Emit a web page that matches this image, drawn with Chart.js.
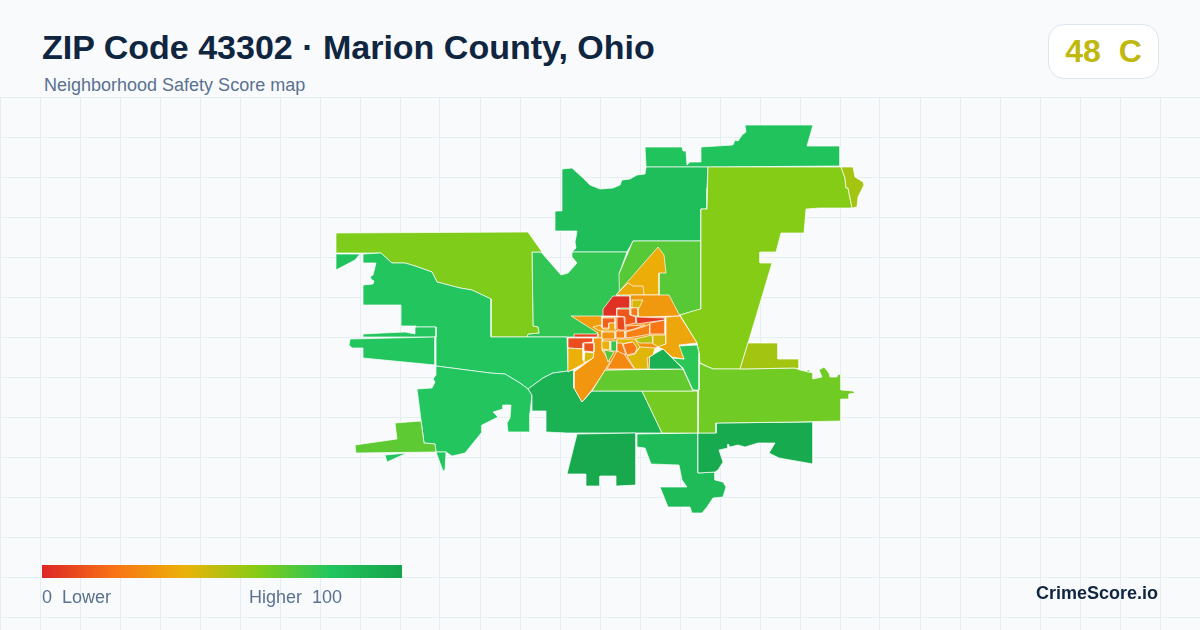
<!DOCTYPE html>
<html>
<head>
<meta charset="utf-8">
<title>ZIP Code 43302</title>
<script src="https://cdn.jsdelivr.net/npm/chart.js@4/dist/chart.umd.min.js"></script>
<style>
  html, body { margin: 0; padding: 0; }
  body { width: 1200px; height: 630px; background: #f8fafc; position: relative; overflow: hidden; font-family: "Liberation Sans", Arial, sans-serif; }
  #mapWrap { position: absolute; left: 0; top: 97px; width: 1200px; height: 533px; }
  .txt { position: absolute; white-space: pre; }
  #title { left: 42px; top: 27px; font-size: 34px; font-weight: bold; color: #0f2540; line-height: 40px; }
  #subtitle { left: 44px; top: 75px; font-size: 18px; color: #5a7190; line-height: 20px; }
  #badge { position: absolute; left: 1048px; top: 24px; width: 109px; height: 53px; background: #fff; border: 1px solid #dde5ee; border-radius: 16px; text-align: center; font-size: 32px; font-weight: bold; color: #bfb80f; line-height: 53px; white-space: pre; }
  #legendBar { position: absolute; left: 42px; top: 565px; width: 360px; height: 13px; }
  #lower { left: 42px; top: 587px; font-size: 18px; color: #5a7190; line-height: 20px; }
  #higher { left: 249px; top: 587px; font-size: 18px; color: #5a7190; line-height: 20px; }
  #brand { right: 42px; top: 583px; font-size: 18px; font-weight: bold; color: #0f2540; line-height: 20px; }
</style>
</head>
<body>
<div class="txt" id="title">ZIP Code 43302 · Marion County, Ohio</div>
<div class="txt" id="subtitle">Neighborhood Safety Score map</div>
<div id="badge">48  C</div>
<div id="mapWrap"><canvas id="map" width="1200" height="533"></canvas></div>
<div id="legendBar"></div>
<div class="txt" id="lower">0  Lower</div>
<div class="txt" id="higher">Higher  100</div>
<div class="txt" id="brand">CrimeScore.io</div>

<script>
// Colour ramp for the score, same one as the legend bar
const scoreStops = [0, 20, 40, 60, 80, 100];
const scoreColors = ["#dc2626", "#f97316", "#eab308", "#84cc16", "#22c55e", "#16a34a"];

// Tract outlines in map units
const northBand = [[745,125],[813,125],[807,146],[840,146],[840,166],[708,167],[646,167],[645,147],[682,147],[683,151],[686,151],[687,165],[690,162],[700,162],[701,147],[733,145],[735,140],[738,141],[742,135],[746,132]];
const northWest = [[562,169],[572,168],[583,178],[590,185],[600,189],[613,188],[620,185],[622,180],[630,179],[637,175],[645,174],[646,167],[708,167],[707,188],[707,209],[701,209],[701,241],[633,241],[627,252],[572,252],[576,248],[575,242],[576,237],[577,231],[555,231],[555,211],[562,211]];
const midWest = [[532,252],[541,252],[561,275],[568,273],[577,263],[572,257],[572,252],[627,252],[619,274],[633,274],[600,320],[600,337],[567,337],[527,337],[528,334],[539,333],[538,327],[533,326]];
const northEastInner = [[633,241],[701,241],[701,309],[680,315],[620,320],[619,274]];
const bigNorthEast = [[708,167],[841,167],[845,178],[846,188],[848,188],[852,208],[820,208],[806,209],[804,233],[781,233],[776,252],[760,252],[760,263],[772,263],[752,330],[740,369],[713,369],[700,363],[699,352],[697,343],[680,315],[700,309],[701,209],[707,209]];
const northEastTip = [[841,167],[853,167],[855,177],[863,182],[864,185],[858,197],[857,207],[852,208],[848,188],[846,188],[845,178]];
const northWestLime = [[336,233],[528,232],[542,252],[532,252],[533,326],[538,327],[539,333],[528,334],[527,337],[491,337],[491,299],[472,290],[460,288],[437,282],[432,272],[415,266],[405,263],[392,263],[381,253],[336,253]];
const westSliver = [[336,254],[360,254],[355,260],[336,270]];
const westBlock = [[363,254],[381,253],[392,263],[405,263],[415,266],[432,272],[437,282],[460,288],[472,290],[491,299],[491,337],[567,337],[568,371],[553,373],[543,378],[528,389],[520,383],[505,374],[490,373],[436,366],[436,327],[416,327],[416,326],[401,326],[401,305],[363,305],[363,285],[373,284],[374,281],[372,280],[370,277],[373,275],[376,263],[363,263]];
const westStrip = [[415,327],[436,327],[436,337],[363,337],[363,334],[383,333],[405,332],[415,334]];
const westArm = [[350,339],[435,337],[435,365],[363,358],[363,348],[352,348],[349,345]];
const southWest = [[436,366],[490,373],[505,374],[520,383],[528,389],[532,395],[530,413],[530,432],[508,432],[507,423],[510,418],[511,405],[503,405],[503,409],[493,412],[498,417],[482,425],[482,432],[465,453],[452,456],[446,452],[436,452],[435,444],[424,443],[417,389],[432,388],[435,382],[433,379],[436,375]];
const southWestSpike = [[436,452],[446,452],[445,470],[443,471]];
const southWestLime = [[395,423],[421,421],[424,443],[435,444],[436,452],[356,453],[355,445],[397,439]];
const southWestSliver = [[385,455],[407,453],[387,462]];
const southCenter = [[532,395],[528,389],[543,378],[553,373],[568,371],[574,370],[574,388],[582,402],[592,391],[642,391],[662,433],[567,433],[546,432],[546,411],[532,411]];
const southBlock = [[577,434],[636,433],[636,485],[616,486],[616,476],[600,476],[600,486],[586,486],[586,474],[567,474]];
const southGreen = [[637,434],[698,433],[698,473],[715,472],[715,480],[723,482],[726,487],[723,497],[713,498],[707,507],[702,513],[692,513],[690,507],[668,507],[660,487],[687,487],[682,480],[679,465],[651,464],[645,448],[637,447]];
const southEastDark = [[698,433],[716,433],[716,423],[813,422],[813,464],[779,458],[769,453],[775,443],[758,443],[745,447],[738,445],[730,447],[728,444],[728,448],[719,450],[723,462],[718,470],[715,472],[698,473]];
const southEastLime = [[699,363],[713,369],[740,369],[795,368],[800,370],[813,373],[813,379],[822,377],[819,370],[824,367],[829,373],[830,377],[837,377],[838,374],[841,375],[841,390],[853,391],[855,393],[849,394],[849,399],[841,399],[841,421],[793,422],[716,423],[716,433],[698,433]];
const southEastIslet = [[807,370],[810,370],[810,372],[807,372]];
const eastBlock = [[748,343],[778,343],[778,359],[799,359],[799,369],[795,368],[740,369]];
const southLime = [[642,391],[698,391],[698,433],[662,433]];
const southBand = [[605,370],[683,369],[693,391],[592,391]];
const eastGreen = [[678,346],[697,345],[699,353],[699,390],[693,390],[683,368],[672,358],[684,359]];
const pocket = [[649,357],[663,349],[672,358],[683,369],[649,369]];
const coreBase = [[603,317],[665,317],[666,344],[650,350],[649,369],[605,370],[603,350]];
const northSpire = [[658,247],[664,255],[666,273],[659,273],[659,295],[616,295]];
const spireFoot = [[628,283],[633,286],[643,286],[644,295],[616,295]];
const coreNorthEast = [[630,295],[669,295],[680,316],[639,317],[636,308],[630,308]];
const coreNorthChip = [[632,300],[643,300],[639,308],[632,308]];
const coreRedNorth = [[603,316],[603,309],[613,296],[630,296],[630,308],[617,308],[617,316]];
const coreStepA = [[617,309],[630,309],[630,315],[636,317],[636,323],[626,325],[625,317],[617,316]];
const coreStepB = [[631,308],[638,308],[638,316],[636,316],[631,315]];
const coreRedEast = [[636,317],[665,318],[665,320],[650,322],[637,324]];
const coreMidA = [[602,318],[615,318],[615,323],[609,323],[609,328],[602,328]];
const coreMidB = [[617,317],[624,317],[625,330],[620,330],[617,329]];
const coreMidC = [[626,326],[645,325],[634,329],[626,331]];
const starWest = [[571,316],[602,316],[602,338],[597,338],[597,333],[598,333]];
const starWestInner = [[593,327],[600,325],[603,329],[609,329],[609,323],[615,323],[615,329],[617,331],[615,331],[602,331],[598,330]];
const westRedTop = [[574,334],[598,334],[598,337],[574,337]];
const westRedLow = [[568,338],[593,338],[593,342],[583,343],[583,349],[568,348]];
const westRedBox = [[584,343],[594,343],[594,352],[584,351]];
const westYellow = [[568,348],[583,349],[583,360],[585,363],[568,372]];
const westOlive = [[585,352],[594,353],[593,358],[584,363]];
const southArm = [[602,338],[593,338],[593,358],[574,372],[574,388],[582,402],[592,390],[602,375],[610,362],[602,350]];
const coreRowA = [[602,332],[615,332],[615,339],[602,339]];
const coreYellow = [[602,341],[610,341],[610,350],[603,349]];
const coreGreen = [[611,341],[617,341],[617,351],[611,351]];
const coreTriangle = [[604,350],[614,352],[608,362]];
const coreRowB = [[616,331],[625,331],[625,338],[616,338]];
const coreRowC = [[626,332],[643,327],[650,324],[650,334],[634,337],[626,338]];
const coreEastOrange = [[650,323],[665,320],[665,334],[650,334]];
const coreLime = [[635,339],[652,335],[653,343],[640,343]];
const coreOlive = [[653,335],[666,335],[666,344],[659,347],[653,344]];
const coreBand = [[617,339],[635,339],[640,347],[635,353],[632,342],[622,344],[617,344]];
const coreBlob = [[623,344],[633,342],[637,348],[635,353],[627,355]];
const coreSouthYellow = [[627,356],[635,354],[640,347],[655,348],[653,355],[647,358],[648,369],[635,369]];
const coreSouthOrange = [[607,369],[617,351],[623,352],[632,366],[635,369]];
const coreInnerOrange = [[617,343],[622,343],[626,355],[617,351]];
const coreEast = [[666,317],[680,316],[697,343],[679,345],[684,359],[672,357],[663,349],[657,347],[666,344]];

// Drawn in this order, bottom first. The west red pieces sit over the south arm.
const tracts = [northBand, northWest, midWest, northEastInner, bigNorthEast, northEastTip, northWestLime, westSliver, westBlock, westStrip, westArm, southWest, southWestSpike, southWestLime, southWestSliver, southCenter, southBlock, southGreen, southEastDark, southEastLime, southEastIslet, eastBlock, southLime, southBand, eastGreen, pocket, coreBase, northSpire, spireFoot, coreNorthEast, coreNorthChip, coreRedNorth, coreStepA, coreStepB, coreRedEast, coreMidA, coreMidB, coreMidC, starWest, starWestInner, southArm, westRedTop, westRedLow, westRedBox, westYellow, westOlive, coreRowA, coreYellow, coreGreen, coreTriangle, coreRowB, coreRowC, coreEastOrange, coreLime, coreOlive, coreBand, coreBlob, coreSouthYellow, coreSouthOrange, coreInnerOrange, coreEast];
const scores = [81, 84, 77, 69, 60, 54, 61, 81, 80, 80, 80, 80, 80, 68, 80, 91, 97, 86, 96, 64, 64, 54, 63, 67, 78, 92, 30, 38, 37, 32, 44, 3, 13, 22, 4, 15, 9, 17, 33, 35, 31, 7, 10, 12, 39, 43, 31, 39, 76, 70, 24, 24, 21, 51, 44, 42, 22, 42, 27, 24, 36];

// Grid lines of the background
const yGridTicks = [97, 137, 177, 217, 257, 297, 337, 377, 417, 457, 497, 537, 577, 617];

function hexToRgb(hex) {
  return [1, 3, 5].map((i) => parseInt(hex.slice(i, i + 2), 16));
}

// Score to colour, along the legend ramp
function scoreColor(score) {
  let i = 0;
  while (i < scoreStops.length - 2 && score > scoreStops[i + 1]) i++;
  const t = (score - scoreStops[i]) / (scoreStops[i + 1] - scoreStops[i]);
  const a = hexToRgb(scoreColors[i]);
  const b = hexToRgb(scoreColors[i + 1]);
  const c = a.map((v, k) => Math.round(v + (b[k] - v) * t));
  return `rgb(${c[0]}, ${c[1]}, ${c[2]})`;
}

// Legend bar
document.getElementById("legendBar").style.background =
  "linear-gradient(to right, " +
  scoreColors.map((c, i) => `${c} ${scoreStops[i]}%`).join(", ") +
  ")";

const gridStyle = { color: "#e5eef2", lineWidth: 1, drawTicks: false };

new Chart(document.getElementById("map"), {
  type: "scatter",
  data: {
    datasets: tracts.map((outline, i) => ({
      label: `Tract ${i + 1}`,
      data: outline.concat([outline[0]]).map((p) => ({ x: p[0], y: p[1] })),
      showLine: true,
      fill: "shape",
      tension: 0,
      pointRadius: 0,
      borderColor: "#ffffff",
      borderWidth: 0.7,
      borderJoinStyle: "round",
      backgroundColor: scoreColor(scores[i]),
      order: tracts.length - i,
    })),
  },
  options: {
    responsive: false,
    animation: false,
    devicePixelRatio: 1,
    layout: { padding: 0 },
    plugins: {
      legend: { display: false },
      title: { display: false },
      tooltip: { enabled: false },
    },
    scales: {
      x: {
        type: "linear",
        min: 0,
        max: 1200,
        ticks: { display: false, stepSize: 40 },
        grid: gridStyle,
        border: { display: false },
      },
      y: {
        type: "linear",
        reverse: true,
        min: 97,
        max: 630,
        afterBuildTicks: (scale) => {
          scale.ticks = yGridTicks.map((v) => ({ value: v }));
        },
        ticks: { display: false },
        grid: gridStyle,
        border: { display: false },
      },
    },
  },
});
</script>
</body>
</html>
